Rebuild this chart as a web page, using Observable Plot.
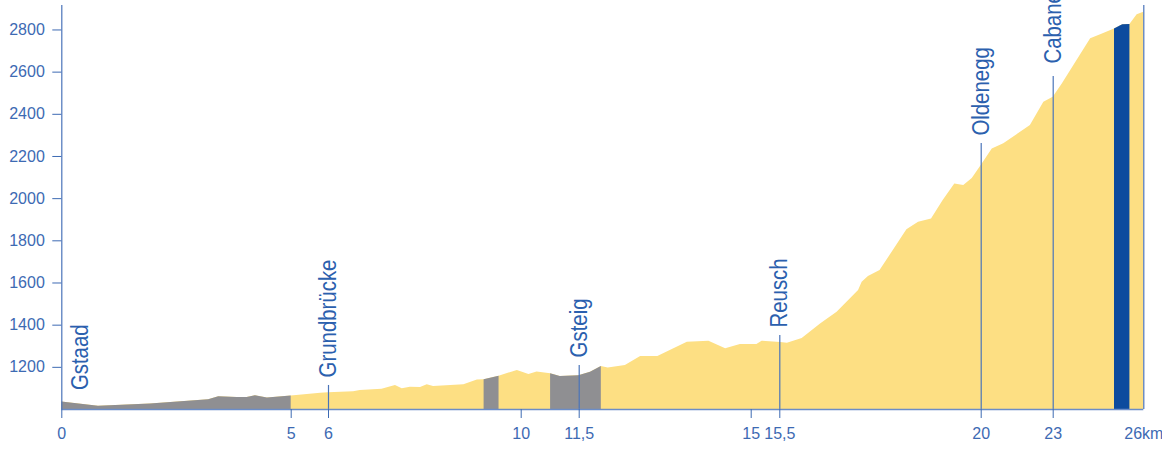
<!DOCTYPE html>
<html><head><meta charset="utf-8">
<script src="https://cdn.jsdelivr.net/npm/d3@7"></script>
<script src="https://cdn.jsdelivr.net/npm/@observablehq/plot@0.6"></script>
<style>html,body{margin:0;padding:0;background:#fff;} #chart svg{display:block}</style>
</head><body><div id="chart"></div>
<script>
// Elevation profile (distance in km, elevation in m)
const km = [0, 0.80, 1.93, 3.20, 3.42, 3.82, 4.04, 4.22, 4.48, 5.00,
  5.79, 6.00, 6.52, 6.66, 7.11, 7.39, 7.53, 7.70, 7.91, 8.05,
  8.18, 8.81, 9.09, 9.23, 9.54, 9.92, 10.20, 10.41, 10.76, 11.01,
  11.49, 11.73, 11.95, 12.09, 12.44, 12.75, 13.10, 13.70, 14.14, 14.48,
  14.78, 15.10, 15.19, 15.52, 15.67, 16.00, 16.41, 16.78, 17.26, 17.34,
  17.48, 17.74, 18.34, 18.60, 18.89, 19.15, 19.41, 19.61, 19.80, 20.00,
  20.46, 20.94, 22.05, 22.61, 23.00, 23.30, 24.24, 24.57, 25.03, 25.30,
  25.54, 25.78, 26.00];
const elev = [1035, 1016, 1026, 1046, 1060, 1057, 1057, 1065, 1055, 1064,
  1077, 1079, 1084, 1090, 1096, 1114, 1098, 1106, 1104, 1117,
  1109, 1117, 1140, 1141, 1158, 1185, 1166, 1178, 1169, 1156,
  1160, 1177, 1204, 1197, 1209, 1251, 1251, 1319, 1324, 1288,
  1308, 1308, 1324, 1318, 1314, 1337, 1406, 1461, 1564, 1604,
  1631, 1659, 1852, 1888, 1904, 1991, 2070, 2062, 2096, 2157,
  2236, 2260, 2347, 2457, 2481, 2544, 2758, 2777, 2805, 2825,
  2826, 2872, 2884];

// Highlighted stretches (km from, km to)
const grayRanges = [[0, 5], [9.23, 9.54], [10.76, 11.95]];
const blueRanges = [[25.03, 25.54]];

// Places along the route
const places = ["Gstaad", "Grundbrücke", "Gsteig", "Reusch", "Oldenegg", "Cabane des Diablerets"];
const placeKm = [0, 6, 11.5, 15.5, 20, 23];
const placeTop = [1035, 1114, 1209, 1351, 2261, 2579];
const placeHasLine = [false, true, true, true, true, true];

// Axis ticks
const xTicks = [0, 5, 6, 10, 11.5, 15, 15.5, 20, 23];
const xEnd = 26;
const xEndLabel = "26km";
const yTicks = [1200, 1400, 1600, 1800, 2000, 2200, 2400, 2600, 2800];
const yMin = 1000, yMax = 2916;

const profile = km.map((k, i) => ({km: k, elev: elev[i]}));
const inRange = ([a, b]) => profile.filter(d => d.km >= a - 1e-9 && d.km <= b + 1e-9);
const placeData = places.map((p, i) => ({name: p, km: placeKm[i], top: placeTop[i], line: placeHasLine[i]}));

const yellow = "#fddf83", gray = "#8f8f92", blue = "#0d4b9e";
const axisColor = "#4a74b9", tickText = "#3d6ab3", labelColor = "#2b60ae";
const tickFont = "Liberation Sans, Arial, sans-serif";
const labelFont = "'Liberation Sans', Arial, sans-serif";

const labelOpts = {x: "km", y: "top", text: "name", rotate: -90, textAnchor: "start",
  fill: labelColor, fontSize: 24, fontFamily: labelFont, className: "place-label"};

const chart = Plot.plot({
  width: 1162,
  height: 449,
  marginLeft: 61.3,
  marginRight: 18.7,
  marginTop: 5,
  marginBottom: 40,
  style: {fontFamily: tickFont, fontSize: "16px", background: "#fff"},
  x: {type: "linear", domain: [0, 5, 6, 10, 11.5, 15, 15.5, 20, 23, 26],
      range: [61.3, 290.7, 328, 520.7, 578.7, 750.7, 779.3, 980.7, 1052.7, 1143.3]},
  y: {domain: [yMin, yMax]},
  marks: [
    Plot.areaY(profile, {x: "km", y1: yMin, y2: "elev", fill: yellow}),
    ...grayRanges.map(r => Plot.areaY(inRange(r), {x: "km", y1: yMin, y2: "elev", fill: gray})),
    ...blueRanges.map(r => Plot.areaY(inRange(r), {x: "km", y1: yMin, y2: "elev", fill: blue})),
    Plot.ruleX(placeData.filter(d => d.line), {x: "km", y1: yMin, y2: "top", stroke: axisColor, strokeWidth: 1.2}),
    Plot.ruleY([yMin], {x1: 0, x2: xEnd, stroke: "#6b8dc8", strokeWidth: 1.5}),
    Plot.ruleX([0], {y1: yMin, y2: yMax, stroke: axisColor, strokeWidth: 1.2}),
    Plot.ruleX([xEnd], {y1: yMin, y2: yMax, stroke: axisColor, strokeWidth: 1.2}),
    Plot.axisY(yTicks, {anchor: "left", tickSize: 9, tickPadding: 8, color: tickText, fontSize: 16, label: null,
      tickFormat: d => String(d)}),
    Plot.axisX(xTicks, {anchor: "bottom", tickSize: 9, tickPadding: 9, color: tickText, fontSize: 16, label: null,
      tickFormat: d => String(d).replace(".", ",")}),
    Plot.text([xEndLabel], {x: xEnd, y: yMin, text: d => d, dy: 18, lineAnchor: "top", fill: tickText, fontSize: 16}),
    Plot.text(placeData.slice(0, 1), {...labelOpts, dx: 19, dy: -12}),
    Plot.text(placeData.slice(1, 5), {...labelOpts, dy: -8}),
    Plot.text(placeData.slice(5), {...labelOpts, dy: -13})
  ]
});
// condense the place-name lettering along its reading direction
d3.select(chart).selectAll(".place-label text").each(function() {
  const t = this.getAttribute("transform") || "";
  this.setAttribute("transform", t + " scale(0.85,1)");
});
document.getElementById("chart").append(chart);
</script>
</body></html>
